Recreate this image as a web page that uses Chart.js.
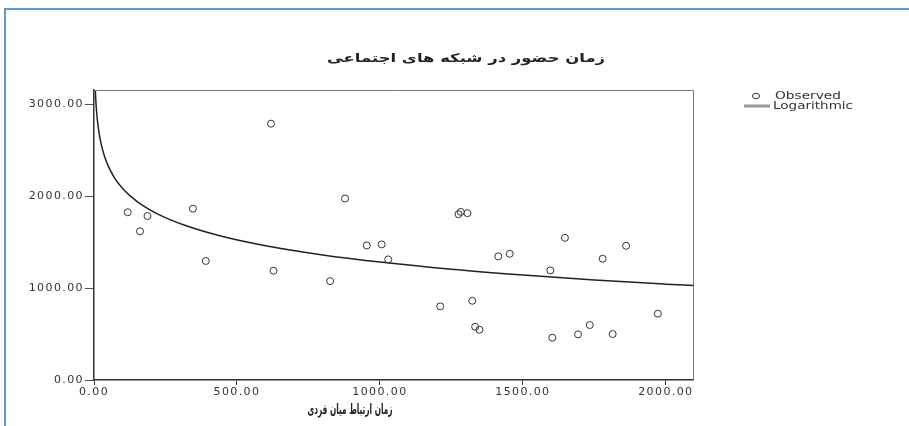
<!DOCTYPE html>
<html>
<head>
<meta charset="utf-8">
<script src="https://cdn.jsdelivr.net/npm/chart.js@4.4.1/dist/chart.umd.min.js"></script>
<style>
  html, body { margin: 0; padding: 0; background: #fff; }
  #wrap { width: 909px; height: 426px; }
</style>
</head>
<body>
<div id="wrap"><canvas id="chart" width="909" height="426"></canvas></div>
<script>
// Chart texts
var chartTitle = 'زمان حضور در شبکه های اجتماعی';
var xTitle = 'زمان ارتباط میان فردی';
var seriesLabels = ['Observed', 'Logarithmic'];

// Tick values on both axes
var xTickValues = [0, 500, 1000, 1500, 2000];
var yTickValues = [0, 1000, 2000, 3000];

// Observed points
var obsX = [118, 161, 187, 346, 391, 619, 628, 826, 878, 954, 1006, 1029, 1211, 1275, 1283, 1306,
            1323, 1333, 1348, 1414, 1454, 1596, 1603, 1647, 1693, 1734, 1779, 1814, 1861, 1972];
var obsY = [1825, 1618, 1784, 1864, 1295, 2789, 1189, 1076, 1975, 1464, 1475, 1312, 801, 1804, 1829, 1815,
            862, 579, 547, 1345, 1373, 1192, 460, 1547, 497, 598, 1319, 500, 1460, 721];

// Logarithmic fit curve
var fitX = [3, 5, 8, 12, 20, 30, 45, 70, 100, 150, 220, 320, 450, 600, 800, 1000, 1250, 1500, 1750, 2000, 2095];
var fitY = [3303, 3126, 2962, 2821, 2644, 2503, 2362, 2208, 2084, 1943, 1810, 1680, 1561, 1461, 1361, 1284,
            1206, 1143, 1089, 1043, 1027];

var observed = obsX.map(function (x, i) { return { x: x, y: obsY[i] }; });
var fitted = fitX.map(function (x, i) { return { x: x, y: fitY[i] }; });

var tickFont = { family: '"DejaVu Sans"', size: 11 };

// draws text squeezed or stretched to a given width
function wideText(ctx, text, cx, cy, width, font, color) {
    ctx.save();
    ctx.letterSpacing = '0px';
    ctx.font = font;
    ctx.fillStyle = color;
    ctx.textAlign = 'center';
    ctx.textBaseline = 'middle';
    var w = ctx.measureText(text).width;
    ctx.translate(cx, cy);
    ctx.scale(width / w, 1);
    ctx.fillText(text, 0, 0);
    ctx.restore();
}

var decorations = {
    id: 'decorations',
    beforeLayout: function (chart) { chart.ctx.letterSpacing = '1.4px'; },
    beforeDraw: function (chart) {
        var ctx = chart.ctx;
        ctx.letterSpacing = '1.4px';
        // blue page frame
        ctx.save();
        ctx.strokeStyle = '#5b9bd5';
        ctx.lineWidth = 2;
        ctx.beginPath();
        ctx.moveTo(909, 9);
        ctx.lineTo(5, 9);
        ctx.lineTo(5, 426);
        ctx.stroke();
        ctx.restore();
    },
    afterDraw: function (chart) {
        var ctx = chart.ctx;
        var a = chart.chartArea;
        // box top and right
        ctx.save();
        ctx.strokeStyle = '#777';
        ctx.lineWidth = 1;
        ctx.beginPath();
        ctx.moveTo(a.left, a.top + 0.5);
        ctx.lineTo(a.right + 0.5, a.top + 0.5);
        ctx.lineTo(a.right + 0.5, a.bottom);
        ctx.stroke();
        ctx.restore();

        wideText(ctx, chartTitle, 466, 59, 278, 'bold 12px "DejaVu Sans"', '#222');
        wideText(ctx, xTitle, 350, 410, 85, 'bold 14px "DejaVu Sans"', '#222');

        // legend
        var obs = chart.data.datasets[0];
        var fit = chart.data.datasets[1];
        ctx.save();
        ctx.strokeStyle = obs.borderColor;
        ctx.lineWidth = 1;
        ctx.beginPath();
        ctx.ellipse(756, 96, 3.5, 2.8, 0, 0, Math.PI * 2);
        ctx.stroke();
        ctx.strokeStyle = '#999';
        ctx.lineWidth = 3;
        ctx.beginPath();
        ctx.moveTo(744, 106);
        ctx.lineTo(770, 106);
        ctx.stroke();
        ctx.restore();
        wideText(ctx, obs.label, 808, 96, 66, '10px "DejaVu Sans"', '#333');
        wideText(ctx, fit.label, 813, 106, 80, '10px "DejaVu Sans"', '#333');
    }
};

new Chart(document.getElementById('chart').getContext('2d'), {
    type: 'scatter',
    data: {
        datasets: [{
            label: seriesLabels[0],
            data: observed,
            pointStyle: 'circle',
            pointRadius: 3.5,
            borderColor: '#333',
            backgroundColor: 'rgba(255,255,255,0)',
            borderWidth: 1
        }, {
            type: 'line',
            label: seriesLabels[1],
            data: fitted,
            pointRadius: 0,
            borderColor: '#222',
            borderWidth: 1.5,
            cubicInterpolationMode: 'monotone',
            fill: false
        }]
    },
    options: {
        responsive: false,
        animation: false,
        layout: { padding: { left: 0, top: 90, right: 216, bottom: 0 } },
        plugins: {
            legend: { display: false },
            tooltip: { enabled: false }
        },
        scales: {
            x: {
                type: 'linear',
                min: 0,
                max: 2095,
                afterBuildTicks: function (s) { s.ticks = xTickValues.map(function (v) { return { value: v }; }); },
                afterFit: function (s) { s.height = 46; },
                ticks: {
                    font: tickFont,
                    color: '#333',
                    padding: 1,
                    maxRotation: 0,
                    callback: function (v) { return v.toFixed(2); }
                },
                grid: { drawOnChartArea: false, tickLength: 5, color: '#333' },
                border: { color: '#333', width: 1.5 }
            },
            y: {
                min: 0,
                max: 3155,
                afterBuildTicks: function (s) { s.ticks = yTickValues.map(function (v) { return { value: v }; }); },
                afterFit: function (s) { s.width = 94; },
                ticks: {
                    font: tickFont,
                    color: '#333',
                    padding: 1,
                    callback: function (v) { return v.toFixed(2); }
                },
                grid: { drawOnChartArea: false, tickLength: 9, color: '#555' },
                border: { color: '#333', width: 1.5 }
            }
        }
    },
    plugins: [decorations]
});
</script>
</body>
</html>
